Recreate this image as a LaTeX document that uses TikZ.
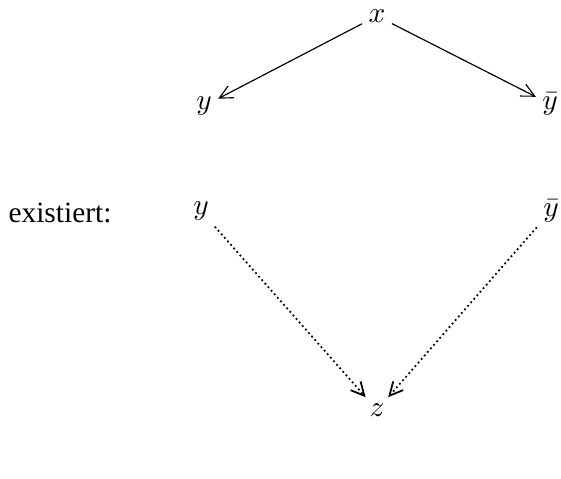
\documentclass[tikz,border=0pt]{standalone}
\usepackage{fontspec}
\setmainfont{Liberation Serif}
\usetikzlibrary{arrows.meta}
\begin{document}
\begin{tikzpicture}[x=.34pt,y=-.34pt,>={Straight Barb[length=4.5pt,width=4.5pt]},inner sep=2pt]
  \useasboundingbox (0,0) rectangle (561,479);
  \node (x) at (377,16) {$x$};
  \node (y) at (204,106) {$y$};
  \node (yb) at (550,104) {$\bar y$};
  \node (ex) at (60,213) {existiert:};
  \node (y2) at (201,211) {$y$};
  \node (yb2) at (551,211) {$\bar y$};
  \node (z) at (377,410) {$z$};
  \draw[->] (x)--(y);
  \draw[->] (x)--(yb);
  \draw[->,densely dotted,semithick] (y2)--(z);
  \draw[->,densely dotted,semithick] (yb2)--(z);
\end{tikzpicture}
\end{document}
